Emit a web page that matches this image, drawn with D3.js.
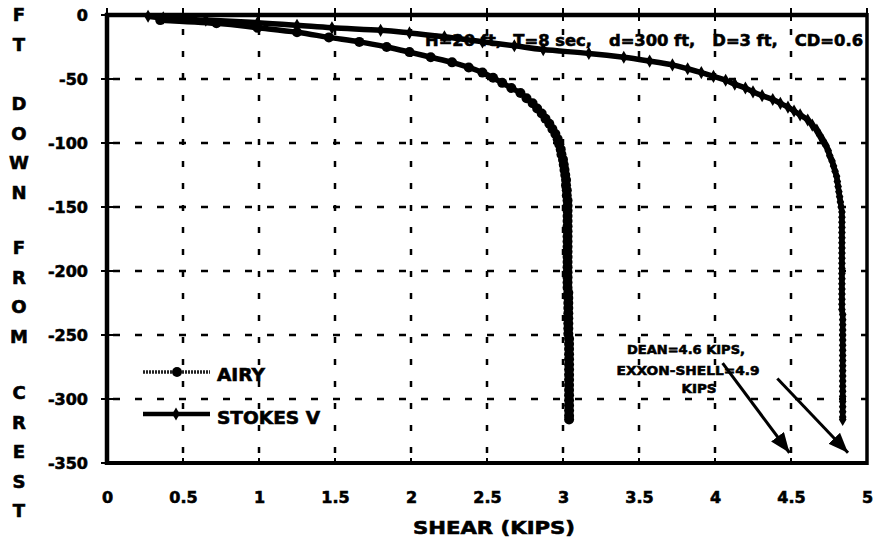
<!DOCTYPE html>
<html>
<head>
<meta charset="utf-8">
<script src="https://cdn.jsdelivr.net/npm/d3@7"></script>
<style>
body { margin: 0; background: #fff; }
text { font-family: "DejaVu Sans", sans-serif; font-weight: bold; fill: #000; stroke: #000; stroke-width: 0.6px; }
</style>
</head>
<body>
<div id="chart"></div>
<script>

// axis ticks
var xTicks = [0, 0.5, 1, 1.5, 2, 2.5, 3, 3.5, 4, 4.5, 5];
var xTickLabels = ["0", "0.5", "1", "1.5", "2", "2.5", "3", "3.5", "4", "4.5", "5"];
var yTicks = [0, -50, -100, -150, -200, -250, -300, -350];
var yTickLabels = ["0", "-50", "-100", "-150", "-200", "-250", "-300", "-350"];

// AIRY: depth (ft down from crest) and shear (kips)
var airyDepth = [-4, -6.5, -10, -13.5, -17.5, -21, -25, -29,
    -33, -37, -41, -45, -49, -53, -57, -61, -65, -69, -73, -77, -81, -85, -89, -93, -97,
    -101, -105, -109, -113, -117, -121, -125, -129, -133, -137, -141, -145, -149,
    -153, -157, -161, -165, -169, -173, -177, -181, -185, -189, -193, -197,
    -201, -205, -209, -213, -217, -221, -225, -229, -233, -237, -241, -245, -249,
    -253, -257, -261, -265, -269, -273, -277, -281, -285, -289, -293, -297,
    -301, -305, -309, -313, -316];
var airyShear = [0.35, 0.72, 0.99, 1.25, 1.46, 1.66, 1.84, 1.99,
    2.13, 2.27, 2.38, 2.47, 2.54, 2.60, 2.66, 2.72, 2.76, 2.80, 2.83, 2.86, 2.885, 2.91, 2.93, 2.95, 2.965,
    2.975, 2.985, 2.99, 3.00, 3.005, 3.01, 3.015, 3.02, 3.02, 3.025, 3.025, 3.03, 3.03,
    3.03, 3.03, 3.03, 3.03, 3.03, 3.03, 3.03, 3.03, 3.03, 3.03, 3.03, 3.03,
    3.03, 3.03, 3.03, 3.03, 3.035, 3.035, 3.035, 3.035, 3.035, 3.035, 3.035, 3.035, 3.035,
    3.04, 3.04, 3.04, 3.04, 3.04, 3.04, 3.04, 3.04, 3.04, 3.04, 3.04, 3.04,
    3.04, 3.04, 3.04, 3.04, 3.04];

// STOKES V
var stokesDepth = [-1, -2.3, -4, -6, -8, -10, -12, -14, -17, -21, -24, -27, -30, -33, -36, -39,
    -42, -45, -48, -51, -54, -57, -60, -63, -66, -69, -72, -75, -78, -82, -86, -90, -94, -98,
    -102, -106, -110, -114, -118, -122, -126, -130, -134, -138, -142, -146, -150,
    -154, -158, -162, -166, -170, -174, -178, -182, -186, -190, -194, -198,
    -202, -206, -210, -214, -218, -222, -226, -230,
    -234, -238, -242, -246, -250, -254, -258, -262, -266, -270, -274, -278,
    -282, -286, -290, -294, -298, -302, -306, -310, -314, -316];
var stokesShear = [0.27, 0.37, 0.65, 0.99, 1.25, 1.48, 1.80, 1.99, 2.22, 2.47, 2.68, 2.87, 3.17, 3.40, 3.57, 3.72,
    3.82, 3.91, 3.99, 4.07, 4.13, 4.20, 4.25, 4.31, 4.38, 4.43, 4.48, 4.52, 4.56, 4.61, 4.64, 4.67, 4.69, 4.71,
    4.73, 4.745, 4.755, 4.77, 4.78, 4.79, 4.80, 4.805, 4.81, 4.815, 4.82, 4.825, 4.83,
    4.835, 4.835, 4.835, 4.835, 4.835, 4.835, 4.835, 4.835, 4.835, 4.835, 4.835, 4.835,
    4.835, 4.835, 4.835, 4.835, 4.835, 4.835, 4.835, 4.835,
    4.84, 4.84, 4.84, 4.84, 4.84, 4.84, 4.84, 4.84, 4.84, 4.84, 4.84, 4.84,
    4.84, 4.84, 4.84, 4.84, 4.84, 4.84, 4.84, 4.84, 4.84, 4.84];

var seriesNames = ["AIRY", "STOKES V"];
var titleWords = ["FT", "DOWN", "FROM", "CREST"];
var xTitle = "SHEAR (KIPS)";
var caseText = "H=20 ft,  T=8 sec,   d=300 ft,   D=3 ft,   CD=0.6";
var noteLines = ["DEAN=4.6 KIPS,", "EXXON-SHELL=4.9", "KIPS"];
// arrow tails and tips, in (shear, depth)
var arrowFrom = [[4.05, -272], [4.41, -284]];
var arrowTo = [[4.49, -342], [4.875, -342]];

var margin = {top: 15, right: 10, bottom: 86, left: 107};
var width = 877 - margin.left - margin.right,
    height = 549 - margin.top - margin.bottom;

var root = d3.select("#chart").append("svg")
    .attr("width", 877)
    .attr("height", 549)
    .style("background", "#fff");

var svg = root.append("g")
    .attr("transform", "translate(" + margin.left + "," + margin.top + ")");

var x = d3.scaleLinear().domain([0, 5]).range([0, width]);
var y = d3.scaleLinear().domain([0, -350]).range([0, height]);

// dashed grid
svg.selectAll(".vgrid")
    .data(xTicks.slice(1, -1))
    .enter().append("line")
    .attr("class", "vgrid")
    .attr("x1", function(d) { return x(d); })
    .attr("x2", function(d) { return x(d); })
    .attr("y1", 14)
    .attr("y2", height)
    .attr("stroke", "#000")
    .attr("stroke-width", 2.5)
    .attr("stroke-dasharray", "6,16");

svg.selectAll(".hgrid")
    .data(yTicks.slice(1, -1))
    .enter().append("line")
    .attr("class", "hgrid")
    .attr("x1", 6)
    .attr("x2", width)
    .attr("y1", function(d) { return y(d); })
    .attr("y2", function(d) { return y(d); })
    .attr("stroke", "#000")
    .attr("stroke-width", 2.5)
    .attr("stroke-dasharray", "7,15");

// axis labels
var yAxis = d3.axisLeft(y)
    .tickValues(yTicks)
    .tickFormat(function(d, i) { return yTickLabels[i]; })
    .tickSize(0)
    .tickPadding(19);

var xAxis = d3.axisBottom(x)
    .tickValues(xTicks)
    .tickFormat(function(d, i) { return xTickLabels[i]; })
    .tickSize(0)
    .tickPadding(29);

var yg = svg.append("g").attr("class", "axis y-axis").call(yAxis);
var xg = svg.append("g").attr("class", "axis x-axis")
    .attr("transform", "translate(0," + height + ")")
    .call(xAxis);

[yg, xg].forEach(function(g) {
    g.select(".domain").remove();
    g.attr("font-family", null).attr("font-size", null);
    g.selectAll("text")
        .style("font-size", "16px")
        .attr("fill", "#000");
});

// tick marks
svg.selectAll(".ytick")
    .data(yTicks)
    .enter().append("line")
    .attr("x1", -6).attr("x2", 6)
    .attr("y1", function(d) { return y(d); })
    .attr("y2", function(d) { return y(d); })
    .attr("stroke", "#000").attr("stroke-width", 2);

svg.selectAll(".ytickR")
    .data(yTicks)
    .enter().append("line")
    .attr("x1", width - 6).attr("x2", width)
    .attr("y1", function(d) { return y(d); })
    .attr("y2", function(d) { return y(d); })
    .attr("stroke", "#000").attr("stroke-width", 2);

svg.selectAll(".xtickT")
    .data(xTicks)
    .enter().append("line")
    .attr("x1", function(d) { return x(d); })
    .attr("x2", function(d) { return x(d); })
    .attr("y1", -7).attr("y2", 6)
    .attr("stroke", "#000").attr("stroke-width", 2);

svg.selectAll(".xtickB")
    .data(xTicks)
    .enter().append("line")
    .attr("x1", function(d) { return x(d); })
    .attr("x2", function(d) { return x(d); })
    .attr("y1", height - 5).attr("y2", height)
    .attr("stroke", "#000").attr("stroke-width", 2);

// frame
svg.append("line").attr("x1", -2).attr("x2", width + 1).attr("y1", y(0)).attr("y2", y(0))
    .attr("stroke", "#000").attr("stroke-width", 4.5);
svg.append("line").attr("x1", -2).attr("x2", width + 1).attr("y1", height).attr("y2", height)
    .attr("stroke", "#000").attr("stroke-width", 4);
svg.append("line").attr("x1", 0).attr("x2", 0).attr("y1", -2).attr("y2", height + 2)
    .attr("stroke", "#000").attr("stroke-width", 4.5);
svg.append("line").attr("x1", width).attr("x2", width).attr("y1", -2).attr("y2", height + 2)
    .attr("stroke", "#000").attr("stroke-width", 3.5);

// curves
var airy = airyDepth.map(function(d, i) { return {depth: d, shear: airyShear[i]}; });
var stokes = stokesDepth.map(function(d, i) { return {depth: d, shear: stokesShear[i]}; });

var line = d3.line()
    .x(function(d) { return x(d.shear); })
    .y(function(d) { return y(d.depth); })
    .curve(d3.curveMonotoneY);

svg.append("path")
    .datum(stokes)
    .attr("d", line)
    .attr("fill", "none")
    .attr("stroke", "#000")
    .attr("stroke-width", 5.5);

var diamond = d3.symbol().type(d3.symbolDiamond).size(50);

svg.selectAll(".stokes-pt")
    .data(stokes)
    .enter().append("path")
    .attr("class", "stokes-pt")
    .attr("d", diamond)
    .attr("transform", function(d) { return "translate(" + x(d.shear) + "," + y(d.depth) + ")"; })
    .attr("fill", "#000");

svg.append("path")
    .datum(airy)
    .attr("d", line)
    .attr("fill", "none")
    .attr("stroke", "#000")
    .attr("stroke-width", 5.5);

svg.selectAll(".airy-pt")
    .data(airy)
    .enter().append("circle")
    .attr("class", "airy-pt")
    .attr("cx", function(d) { return x(d.shear); })
    .attr("cy", function(d) { return y(d.depth); })
    .attr("r", 5)
    .attr("fill", "#000");

// case parameters
svg.append("text")
    .attr("x", 318)
    .attr("y", 31)
    .attr("textLength", 438)
    .attr("lengthAdjust", "spacingAndGlyphs")
    .style("white-space", "pre")
    .style("font-size", "16px")
    .text(caseText);

// legend
var legend = svg.append("g").attr("transform", "translate(36,357)");

legend.append("line")
    .attr("x1", 0).attr("x2", 67).attr("y1", 0).attr("y2", 0)
    .attr("stroke", "#222").attr("stroke-width", 3.5)
    .attr("stroke-dasharray", "2,1");
legend.append("circle").attr("cx", 34).attr("cy", 0).attr("r", 5).attr("fill", "#000");

legend.append("line")
    .attr("x1", 0).attr("x2", 67).attr("y1", 42).attr("y2", 42)
    .attr("stroke", "#000").attr("stroke-width", 4.5);
legend.append("path").attr("d", diamond).attr("transform", "translate(33,42)").attr("fill", "#000");

legend.selectAll("text")
    .data(seriesNames)
    .enter().append("text")
    .attr("x", 74)
    .attr("y", function(d, i) { return 9 + i * 43; })
    .attr("textLength", function(d, i) { return i === 0 ? 48 : 103; })
    .attr("lengthAdjust", "spacingAndGlyphs")
    .style("font-size", "17px")
    .text(function(d) { return d; });

// note + arrows
var defs = root.append("defs");
defs.append("marker")
    .attr("id", "head")
    .attr("markerUnits", "userSpaceOnUse")
    .attr("viewBox", "0 0 20 16")
    .attr("refX", 20).attr("refY", 8)
    .attr("markerWidth", 20).attr("markerHeight", 16)
    .attr("orient", "auto")
    .append("path")
    .attr("d", "M0,0 L20,8 L0,16 Z")
    .attr("fill", "#000");

svg.selectAll(".arrow")
    .data(arrowFrom)
    .enter().append("line")
    .attr("class", "arrow")
    .attr("x1", function(d) { return x(d[0]); })
    .attr("y1", function(d) { return y(d[1]); })
    .attr("x2", function(d, i) { return x(arrowTo[i][0]); })
    .attr("y2", function(d, i) { return y(arrowTo[i][1]); })
    .attr("stroke", "#000")
    .attr("stroke-width", 3)
    .attr("marker-end", "url(#head)");

var noteCx = [579, 581, 592];
var noteY = [339, 360, 378];
var noteLen = [118, 143, 35];
svg.selectAll(".note")
    .data(noteLines)
    .enter().append("text")
    .attr("class", "note")
    .attr("x", function(d, i) { return noteCx[i]; })
    .attr("y", function(d, i) { return noteY[i]; })
    .attr("text-anchor", "middle")
    .attr("textLength", function(d, i) { return noteLen[i]; })
    .attr("lengthAdjust", "spacingAndGlyphs")
    .style("font-size", "13px")
    .text(function(d) { return d; });

// axis titles
root.append("text")
    .attr("x", 494)
    .attr("y", 534)
    .attr("text-anchor", "middle")
    .attr("textLength", 162)
    .attr("lengthAdjust", "spacingAndGlyphs")
    .style("font-size", "18px")
    .text(xTitle);

var wordTop = [15, 104, 248, 393];
titleWords.forEach(function(w, k) {
    w.split("").forEach(function(ch, j) {
        root.append("text")
            .attr("x", 19)
            .attr("y", wordTop[k] + j * 29.5)
            .attr("dy", "0.36em")
            .attr("text-anchor", "middle")
            .style("font-size", "18px")
            .text(ch);
    });
});

</script>
</body>
</html>
